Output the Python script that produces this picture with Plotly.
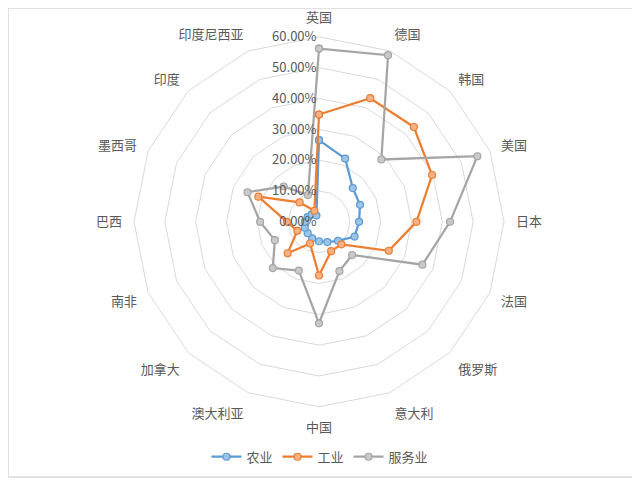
import plotly.graph_objects as go

countries = ["英国", "德国", "韩国", "美国", "日本", "法国", "俄罗斯", "意大利",
             "中国", "澳大利亚", "加拿大", "南非", "巴西", "墨西哥", "印度", "印度尼西亚"]

# shares in each country
agri = [0.265, 0.222, 0.155, 0.144, 0.130, 0.125, 0.087, 0.071,
        0.063, 0.058, 0.052, 0.050, 0.046, 0.040, 0.034, 0.022]
industry = [0.348, 0.434, 0.435, 0.397, 0.316, 0.245, 0.103, 0.103,
            0.174, 0.076, 0.144, 0.076, 0.104, 0.213, 0.089, 0.039]
service = [0.562, 0.585, 0.286, 0.556, 0.425, 0.363, 0.152, 0.173,
           0.329, 0.171, 0.212, 0.155, 0.191, 0.251, 0.162, 0.094]

series = [("农业", agri, "#5B9BD5", "#9DC3E6"),
          ("工业", industry, "#ED7D31", "#F4B183"),
          ("服务业", service, "#A5A5A5", "#C9C9C9")]

fig = go.Figure()
for name, vals, col, fill in series:
    fig.add_trace(go.Scatterpolar(
        r=vals + vals[:1],
        theta=countries + countries[:1],
        name=name,
        mode="lines+markers",
        line=dict(color=col, width=2.25),
        marker=dict(size=7, color=fill, line=dict(color=col, width=1.2)),
    ))

grid = "#D9D9D9"
fig.update_layout(
    width=640, height=480,
    paper_bgcolor="white",
    margin=dict(l=0, r=0, t=0, b=0, autoexpand=False),
    font=dict(family="Noto Sans CJK SC", size=13, color="#595959"),
    polar=dict(
        domain=dict(x=[0.1969, 0.775], y=[0.169, 0.940]),
        bgcolor="white",
        gridshape="linear",
        angularaxis=dict(rotation=90, direction="clockwise",
                         showline=True, linecolor=grid, linewidth=1,
                         showgrid=False, ticks="outside", ticklen=9,
                         tickcolor="rgba(0,0,0,0)",
                         tickfont=dict(size=13, color="#595959")),
        radialaxis=dict(range=[0, 0.6], dtick=0.1, tickformat=".2%",
                        angle=90, tickangle=90, side="counterclockwise",
                        showline=False, ticks="", gridcolor=grid, gridwidth=1,
                        tickfont=dict(size=13, color="#595959")),
    ),
    legend=dict(orientation="h", x=0.4875, xanchor="center", y=0.065, yanchor="middle",
                font=dict(size=13, color="#595959")),
    shapes=[dict(type="rect", xref="paper", yref="paper", x0=0, y0=0.023, x1=0.983, y1=1,
                 line=dict(color=grid, width=1.5))],
)

fig.write_html("out.html")
